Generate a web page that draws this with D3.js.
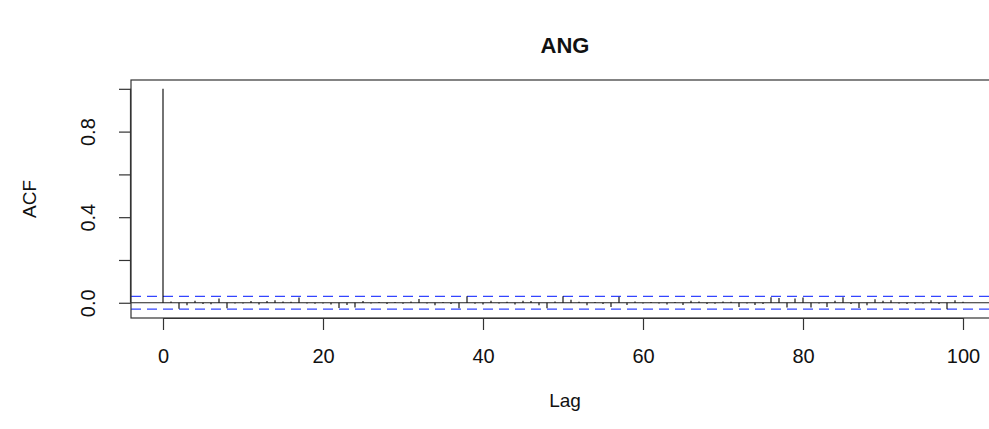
<!DOCTYPE html>
<html>
<head>
<meta charset="utf-8">
<script src="https://cdn.jsdelivr.net/npm/d3@7"></script>
<style>
  body { margin: 0; background: #fff; }
  svg { display: block; font-family: "Liberation Sans", Arial, sans-serif; }
</style>
</head>
<body>
<svg id="chart"></svg>
<script>
// ACF values by lag
const lags = d3.range(0, 101);
const acfValues = [
  1.000, 0.006, -0.028, -0.012, 0.010, -0.006, -0.007, 0.020, -0.026, -0.004,
  -0.004, 0.008, -0.008, 0.008, 0.012, 0.006, 0.005, 0.025, -0.004, -0.005,
  -0.003, -0.008, -0.024, -0.010, -0.022, 0.008, -0.004, 0.003, -0.006, 0.004,
  -0.005, 0.006, 0.018, -0.004, -0.012, 0.003, -0.006, -0.026, 0.030, -0.005,
  -0.008, 0.010, -0.004, 0.005, -0.008, 0.010, 0.008, -0.012, -0.026, 0.006,
  0.030, 0.014, 0.005, -0.012, 0.004, -0.006, -0.020, 0.028, -0.010, 0.006,
  -0.003, 0.004, -0.004, -0.008, 0.003, -0.010, 0.010, 0.006, -0.006, -0.005,
  0.006, 0.005, -0.020, -0.003, -0.010, -0.006, 0.026, 0.022, -0.022, 0.020,
  0.025, -0.022, -0.004, -0.020, 0.010, 0.026, -0.006, -0.025, -0.012, 0.016,
  0.009, 0.012, -0.004, -0.006, -0.005, -0.004, 0.012, -0.006, -0.030, 0.012,
  0.005
];
const confLimit = 0.0295;
const xTicks = [0, 20, 40, 60, 80, 100];
const yTicks = [0, 0.2, 0.4, 0.6, 0.8, 1.0];
const yLabelTicks = [0, 0.4, 0.8];
const title = 'ANG';
const xAxisLabel = 'Lag';
const yAxisLabel = 'ACF';

const data = lags.map((lag, i) => ({ lag: lag, acf: acfValues[i] }));

const width = 989, height = 429;
// plot box (R style, 4% padding on each side); right edge runs off the page
const box = { left: 131, right: 995, top: 80, bottom: 318 };
const font = '"Liberation Sans", Arial, sans-serif';

const svg = d3.select('#chart').attr('width', width).attr('height', height);

// R pads the range by 4% each side
const xPad = 0.04 * (d3.max(lags) - d3.min(lags));
const xScale = d3.scaleLinear()
  .domain([d3.min(lags) - xPad, d3.max(lags) + xPad])
  .range([box.left, box.right]);
const yMin = Math.min(-confLimit, d3.min(acfValues));
const yMax = Math.max(confLimit, d3.max(acfValues));
const yPad = 0.04 * (yMax - yMin);
const yScale = d3.scaleLinear()
  .domain([yMin - yPad, yMax + yPad])
  .range([box.bottom, box.top]);

// confidence bands
svg.selectAll('.conf')
  .data([confLimit, -confLimit])
  .join('line')
  .attr('class', 'conf')
  .attr('x1', box.left).attr('x2', width)
  .attr('y1', d => yScale(d)).attr('y2', d => yScale(d))
  .attr('stroke', '#3344ff')
  .attr('stroke-width', 1.2)
  .attr('stroke-dasharray', '10,6');

// zero line
svg.append('line')
  .attr('x1', box.left).attr('x2', width)
  .attr('y1', yScale(0)).attr('y2', yScale(0))
  .attr('stroke', '#222').attr('stroke-width', 1.2);

// spikes
svg.selectAll('.spike')
  .data(data)
  .join('line')
  .attr('class', 'spike')
  .attr('x1', d => xScale(d.lag)).attr('x2', d => xScale(d.lag))
  .attr('y1', yScale(0)).attr('y2', d => yScale(d.acf))
  .attr('stroke', '#000').attr('stroke-width', 1.1);

// box
svg.append('rect')
  .attr('x', box.left).attr('y', box.top)
  .attr('width', box.right - box.left).attr('height', box.bottom - box.top)
  .attr('fill', 'none').attr('stroke', '#333').attr('stroke-width', 1.2);

// x axis
const xAxis = d3.axisBottom(xScale).tickValues(xTicks).tickSize(12).tickSizeOuter(0).tickPadding(19);
const xAxisG = svg.append('g').attr('transform', `translate(0,${box.bottom})`).call(xAxis);
xAxisG.select('.domain')
  .attr('d', `M${xScale(xTicks[0])},0.5H${xScale(xTicks[xTicks.length - 1])}`)
  .attr('stroke', '#333').attr('stroke-width', 1.2);
xAxisG.selectAll('.tick line').attr('stroke', '#333').attr('stroke-width', 1.2);
xAxisG.selectAll('.tick text').attr('font-size', 20).attr('fill', '#111')
  .attr('font-family', font);

// y axis
const yAxis = d3.axisLeft(yScale).tickValues(yTicks).tickSize(12).tickSizeOuter(0)
  .tickFormat(d => yLabelTicks.some(v => Math.abs(v - d) < 1e-9) ? d3.format('.1f')(d) : '');
const yAxisG = svg.append('g').attr('transform', `translate(${box.left},0)`).call(yAxis);
yAxisG.select('.domain')
  .attr('d', `M-0.5,${yScale(yTicks[0])}V${yScale(yTicks[yTicks.length - 1])}`)
  .attr('stroke', '#333').attr('stroke-width', 1.2);
yAxisG.selectAll('.tick line').attr('stroke', '#333').attr('stroke-width', 1.2);
yAxisG.selectAll('.tick text')
  .attr('font-size', 20).attr('fill', '#111')
  .attr('font-family', font)
  .attr('text-anchor', 'middle')
  .attr('dy', null)
  .attr('x', null)
  .attr('transform', 'translate(-43,0) rotate(-90)')
  .attr('dominant-baseline', 'central');

// titles
svg.append('text')
  .attr('x', 565).attr('y', 53)
  .attr('text-anchor', 'middle')
  .attr('font-size', 22).attr('font-weight', 'bold').attr('fill', '#111')
  .attr('font-family', font)
  .text(title);
svg.append('text')
  .attr('x', 565).attr('y', 407)
  .attr('text-anchor', 'middle')
  .attr('font-size', 19).attr('fill', '#111')
  .attr('font-family', font)
  .text(xAxisLabel);
svg.append('text')
  .attr('transform', `translate(36,${(box.top + box.bottom) / 2}) rotate(-90)`)
  .attr('text-anchor', 'middle')
  .attr('font-size', 19).attr('fill', '#111')
  .attr('font-family', font)
  .text(yAxisLabel);
</script>
</body>
</html>
